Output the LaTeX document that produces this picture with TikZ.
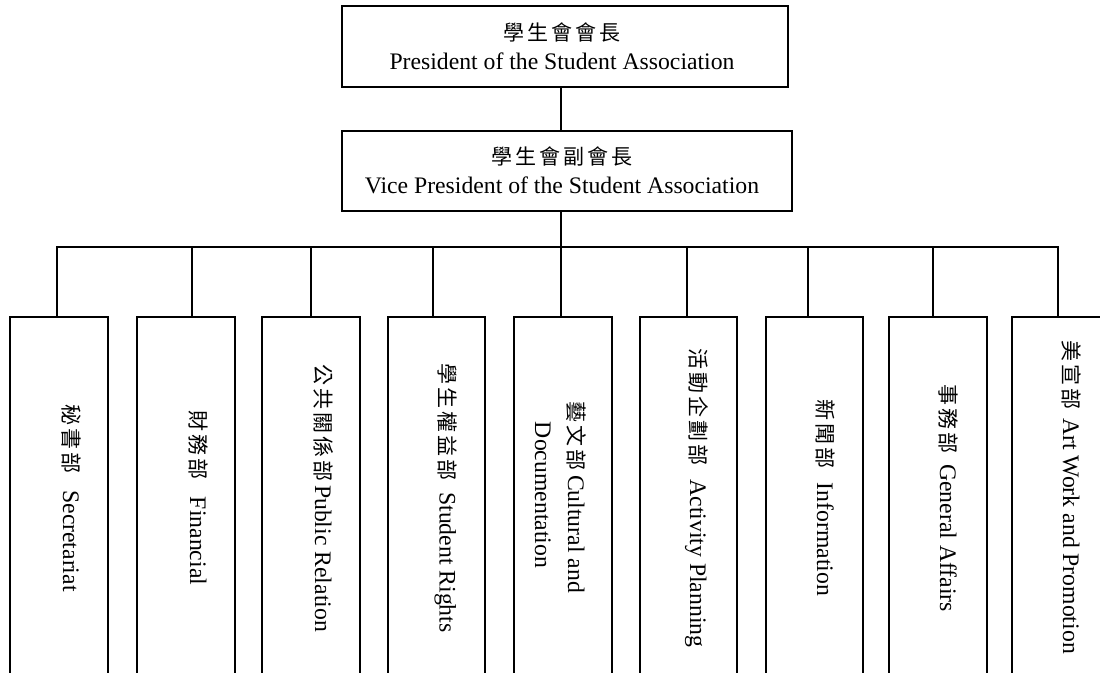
\documentclass[tikz,border=0pt]{standalone}
\usepackage{fontspec}
\setmainfont{Liberation Serif}
\newfontfamily\cjk{Noto Sans CJK TC}
\newcommand\gp{\hspace{3pt}}
\newcommand\zh[1]{{\fontsize{21}{25}\cjk #1}}
\tikzset{
  box/.style={draw=black, line width=2pt, inner sep=0pt, fill=white},
  en/.style={font=\fontsize{23.7}{28}\selectfont, inner sep=0pt, anchor=base},
  zhline/.style={font=\fontsize{21}{25}\cjk, inner sep=0pt, anchor=center},
  vlab/.style={font=\fontsize{23.7}{28}\selectfont, inner sep=0pt, anchor=base, rotate=-90},
  link/.style={line width=2pt, line join=miter},
  deptbox/.style={box, minimum width=98pt, minimum height=363pt},
}
\begin{document}
\begin{tikzpicture}[x=1pt,y=-1pt]
\useasboundingbox (0,0) rectangle (1100,672);
\fill[white] (0,0) rectangle (1100,672);
\clip (0,0) rectangle (1100,672);

% top boxes
\node[box, minimum width=446pt, minimum height=81pt] (pres) at (565,46.5) {};
\node[zhline] (presZh) at (562,32.5) {學\gp 生\gp 會\gp 會\gp 長};
\node[en] (presEn) at (562,69) {President of the Student Association};

\node[box, minimum width=450pt, minimum height=80pt] (vp) at (567,171) {};
\node[zhline] (vpZh) at (562,156.7) {學\gp 生\gp 會\gp 副\gp 會\gp 長};
\node[en] (vpEn) at (562,193.3) {Vice President of the Student Association};

% department boxes
\node[deptbox] (b1) at (59,498.5) {};
\node[deptbox] (b2) at (186,498.5) {};
\node[deptbox] (b3) at (311,498.5) {};
\node[deptbox, minimum width=97pt] (b4) at (436.5,498.5) {};
\node[deptbox] (b5) at (563,498.5) {};
\node[deptbox, minimum width=97pt] (b6) at (688.5,498.5) {};
\node[deptbox, minimum width=97pt] (b7) at (814.5,498.5) {};
\node[deptbox] (b8) at (938,498.5) {};
\node[deptbox] (b9) at (1061,498.5) {};

% junctions on the bar
\coordinate (jv) at (560.7,246.7);
\coordinate (j1) at (57,246.7);
\coordinate (j2) at (192,246.7);
\coordinate (j3) at (311,246.7);
\coordinate (j4) at (433,246.7);
\coordinate (j5) at (561,246.7);
\coordinate (j6) at (687,246.7);
\coordinate (j7) at (808,246.7);
\coordinate (j8) at (933,246.7);
\coordinate (j9) at (1058,246.7);

% connectors
\draw[link] (pres.south -| jv) -- (vp.north -| jv);
\draw[link] (vp.south -| jv) -- (jv);
\draw[link] (b1.north -| j1) -- (j1) -- (j9) -- (b9.north -| j9);
\foreach \k in {2,...,8} { \draw[link] (j\k) -- (b\k.north -| j\k); }

% vertical labels
\node[vlab] (t1) at (63,498) {\zh{秘\gp 書\gp 部}\hspace{17pt}Secretariat};
\node[vlab] (t2) at (190,498) {\zh{財\gp 務\gp 部}\hspace{17pt}Financial};
\node[vlab] (t3) at (315,498) {\zh{公\gp 共\gp 關\gp 係\gp 部}\hspace{4pt}Public Relation};
\node[vlab] (t4) at (439.5,498) {\zh{學\gp 生\gp 權\gp 益\gp 部}\hspace{12pt}Student Rights};
\node[vlab] (t5a) at (568,497) {\zh{藝\gp 文\gp 部}\hspace{5pt}Cultural and};
\node[vlab] (t5b) at (535,495) {Documentation};
\node[vlab] (t6) at (690,498) {\zh{活\gp 動\gp 企\gp 劃\gp 部}\hspace{14pt}Activity Planning};
\node[vlab] (t7) at (817,498) {\zh{新\gp 聞\gp 部}\hspace{14pt}Information};
\node[vlab] (t8) at (940,498) {\zh{事\gp 務\gp 部}\hspace{11pt}General Affairs};
\node[vlab] (t9) at (1063,497) {\zh{美\gp 宣\gp 部}\hspace{9pt}Art Work and Promotion};
\end{tikzpicture}
\end{document}
